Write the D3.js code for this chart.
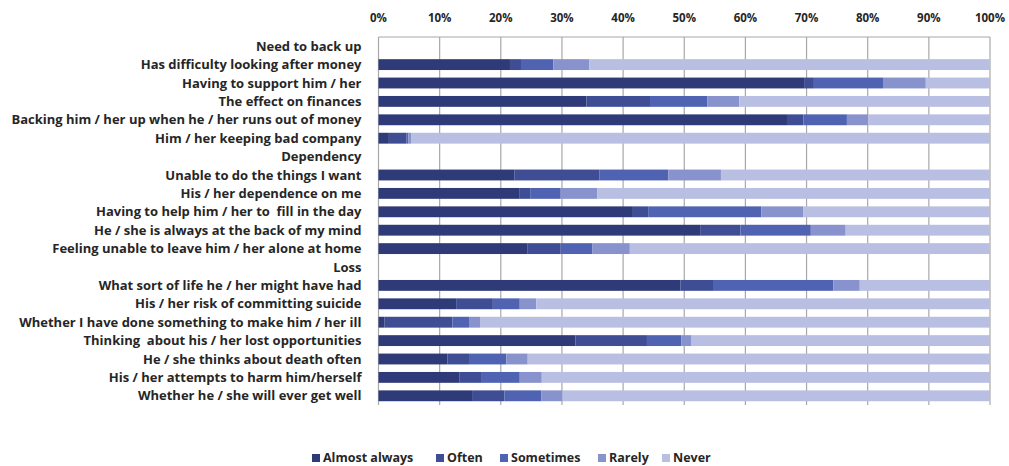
<!DOCTYPE html>
<html lang="en">
<head>
    <meta charset="UTF-8">
    <title>Burden items by frequency</title>
    <script src="https://d3js.org/d3.v7.min.js"></script>
    <style>
        body {
            margin: 0;
            background: #fff;
            font-family: "Open Sans", "Noto Sans", Arial, sans-serif;
        }
        .cat-label, .tick-label, .legend-label {
            font-weight: bold;
            fill: #262626;
        }
        .cat-label {
            white-space: pre;
        }
    </style>
</head>
<body>
    <div id="chart"></div>

    <script>
        // Row labels (section headers have no bars)
        const categories = [
            "Need to back up",
            "Has difficulty looking after money",
            "Having to support him / her",
            "The effect on finances",
            "Backing him / her up when he / her runs out of money",
            "Him / her keeping bad company",
            "Dependency",
            "Unable to do the things I want",
            "His / her dependence on me",
            "Having to help him / her to  fill in the day",
            "He / she is always at the back of my mind",
            "Feeling unable to leave him / her alone at home",
            "Loss",
            "What sort of life he / her might have had",
            "His / her risk of committing suicide",
            "Whether I have done something to make him / her ill",
            "Thinking  about his / her lost opportunities",
            "He / she thinks about death often",
            "His / her attempts to harm him/herself",
            "Whether he / she will ever get well"
        ];
        const headers = ["Need to back up", "Dependency", "Loss"];

        const seriesNames = ["Almost always", "Often", "Sometimes", "Rarely", "Never"];

        // Percentages per series, one entry per row (null = header row)
        const almostAlways = [null, 21.5, 69.6, 34.0, 66.8, 1.7, null, 22.2, 23.0, 41.6, 52.6, 24.4, null, 49.4, 12.7, 1.0, 32.2, 11.3, 13.2, 15.3];
        const often        = [null,  1.8,  1.6, 10.4,  2.7, 2.9, null, 13.9,  1.8,  2.5,  6.6,  5.4, null,  5.3,  6.0, 11.1, 11.7,  3.5,  3.7,  5.3];
        const sometimes    = [null,  5.3, 11.3,  9.4,  7.1, 0.3, null, 11.3,  5.0, 18.5, 11.5,  5.2, null, 19.7,  4.4,  2.7,  5.6,  6.1,  6.2,  6.0];
        const rarely       = [null,  5.9,  7.0,  5.2,  3.5, 0.5, null,  8.6,  6.0,  6.9,  5.7,  6.1, null,  4.3,  2.7,  1.8,  1.7,  3.5,  3.6,  3.5];
        const never        = [null, 65.5, 10.5, 41.0, 19.9, 94.6, null, 44.0, 64.2, 30.5, 23.6, 58.9, null, 21.3, 74.2, 83.4, 48.8, 75.6, 73.3, 69.9];

        const xTicks = [0, 10, 20, 30, 40, 50, 60, 70, 80, 90, 100];
        const colors = ["#2f3b78", "#3e4d94", "#5063b2", "#8892cc", "#b9bfe2"];

        const seriesValues = [almostAlways, often, sometimes, rarely, never];
        const rows = categories.map((c, i) => {
            const r = { category: c, header: headers.includes(c) };
            seriesNames.forEach((s, j) => r[s] = seriesValues[j][i] || 0);
            return r;
        });

        const W = 1009, H = 466;
        const margin = { top: 37, right: 19, bottom: 61, left: 378.5 };
        const width = W - margin.left - margin.right,
              height = H - margin.top - margin.bottom;

        const svg = d3.select("#chart").append("svg")
            .attr("width", W)
            .attr("height", H);

        const g = svg.append("g")
            .attr("transform", `translate(${margin.left},${margin.top})`);

        const x = d3.scaleLinear().domain([0, 100]).range([0, width]);
        const y = d3.scaleBand()
            .domain(categories)
            .range([0, height])
            .paddingInner(0.41)
            .paddingOuter(0.205);

        // gridlines
        g.selectAll(".grid")
            .data(xTicks)
            .enter().append("line")
            .attr("x1", d => x(d)).attr("x2", d => x(d))
            .attr("y1", 0).attr("y2", height)
            .attr("stroke", "#a8a8a8")
            .attr("stroke-width", 1.2);

        g.append("line")
            .attr("x1", 0).attr("x2", width)
            .attr("y1", 0).attr("y2", 0)
            .attr("stroke", "#a8a8a8")
            .attr("stroke-width", 1.2);

        // top axis labels
        g.selectAll(".tick-label")
            .data(xTicks)
            .enter().append("text")
            .attr("class", "tick-label")
            .attr("x", d => x(d))
            .attr("y", -15)
            .attr("text-anchor", "middle")
            .attr("font-size", "11.5px")
            .text(d => d + "%");

        // stacked bars
        const stack = d3.stack().keys(seriesNames);
        const stacked = stack(rows.filter(r => !r.header));

        g.selectAll(".series")
            .data(stacked)
            .enter().append("g")
            .attr("fill", (d, i) => colors[i])
            .selectAll("rect")
            .data(d => d)
            .enter().append("rect")
            .attr("x", d => x(d[0]))
            .attr("width", d => x(d[1]) - x(d[0]))
            .attr("y", d => y(d.data.category))
            .attr("height", y.bandwidth());

        // category labels
        g.selectAll(".cat-label")
            .data(categories)
            .enter().append("text")
            .attr("class", "cat-label")
            .attr("x", -17)
            .attr("y", d => y(d) + y.bandwidth() / 2)
            .attr("dy", "0.35em")
            .attr("text-anchor", "end")
            .attr("font-size", "13px")
            .text(d => d);

        // legend
        const legendX = [312, 436, 500, 598, 662];
        const legend = svg.selectAll(".legend")
            .data(seriesNames)
            .enter().append("g")
            .attr("transform", (d, i) => `translate(${legendX[i]},452)`);

        legend.append("rect")
            .attr("width", 8).attr("height", 8)
            .attr("y", 2)
            .attr("fill", (d, i) => colors[i]);

        legend.append("text")
            .attr("class", "legend-label")
            .attr("x", 11)
            .attr("y", 6)
            .attr("dy", "0.35em")
            .attr("font-size", "12.5px")
            .text(d => d);
    </script>
</body>
</html>
